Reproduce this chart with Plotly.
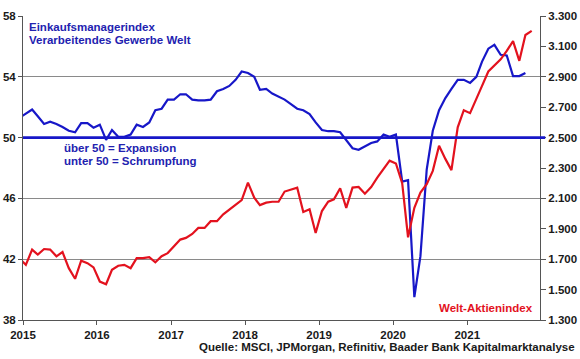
import pandas as pd
import plotly.graph_objects as go

# ---- data (monthly, Dec 2014 ... ) ----
pmi_values = [
    51.3,
    51.55, 51.85, 51.4, 50.9, 51.05, 50.9, 50.7, 50.45, 50.35, 50.95, 50.95, 50.65,
    50.85, 49.85, 50.5, 50.05, 50.05, 50.2, 50.85, 50.7, 51.0, 51.8, 51.9, 52.5,
    52.5, 52.85, 52.85, 52.5, 52.45, 52.45, 52.5, 53.05, 53.2, 53.4, 53.8, 54.35,
    54.25, 54.0, 53.15, 53.2, 52.9, 52.7, 52.5, 52.2, 51.9, 51.8, 51.55, 51.0,
    50.5, 50.42, 50.42, 50.35, 49.8, 49.3, 49.2, 49.4, 49.65, 49.75, 50.2, 50.05,
    50.2, 47.1, 47.2, 39.5, 42.2, 47.9, 50.45, 51.8, 52.6, 53.2, 53.8, 53.8,
    53.6, 54.0, 55.0, 55.85, 56.1, 55.45, 55.4, 54.05, 54.05, 54.25,
]
msci_values = [
    1703,
    1663, 1763, 1730, 1767, 1763, 1719, 1747, 1641, 1571, 1690, 1674, 1646,
    1553, 1535, 1630, 1657, 1663, 1641, 1707, 1707, 1714, 1680, 1720, 1740,
    1783, 1829, 1840, 1866, 1906, 1906, 1950, 1950, 1995, 2028, 2061, 2089,
    2204, 2105, 2056, 2072, 2078, 2078, 2145, 2160, 2171, 2010, 2028, 1873,
    2017, 2078, 2094, 2167, 2038, 2171, 2175, 2131, 2175, 2237, 2290, 2348,
    2330, 2200, 1844, 2038, 2138, 2193, 2281, 2447, 2360, 2286, 2568, 2680,
    2661, 2750, 2840, 2935, 2975, 3015, 3070, 3135, 3005, 3175, 3202,
]
year_ticks = ["2015-01-01", "2016-01-01", "2017-01-01", "2018-01-01",
              "2019-01-01", "2020-01-01", "2021-01-01"]
year_labels = ["2015", "2016", "2017", "2018", "2019", "2020", "2021"]
left_ticks = [38, 42, 46, 50, 54, 58]
right_ticks = list(range(1300, 3301, 200))
threshold = 50

pmi_dates = [d + pd.DateOffset(days=14) for d in
             pd.date_range("2014-12-01", periods=len(pmi_values), freq="MS")]
msci_dates = [d + pd.DateOffset(days=14) for d in
              pd.date_range("2014-12-01", periods=len(msci_values), freq="MS")]

BLUE = "#1717c8"
TXT_BLUE = "#2222b0"
RED = "#e3121e"
FONT = "Liberation Sans, Arial, sans-serif"
tickfont = dict(family=FONT, size=11.5, color="#1a1a1a", weight="bold")

fig = go.Figure()
fig.add_trace(go.Scatter(x=pmi_dates, y=pmi_values, mode="lines",
                         line=dict(color=BLUE, width=2.2), yaxis="y",
                         showlegend=False, hoverinfo="skip"))
fig.add_trace(go.Scatter(x=msci_dates, y=msci_values, mode="lines",
                         line=dict(color=RED, width=2.2), yaxis="y2",
                         showlegend=False, hoverinfo="skip"))

fig.add_shape(type="line", xref="paper", yref="y", x0=0, x1=1.01,
              y0=threshold, y1=threshold, line=dict(color=BLUE, width=2.8),
              layer="above")

def ann(text, x, y, color, xanchor="left", size=11.5):
    fig.add_annotation(text=text, x=x, y=y, xref="paper", yref="paper",
                       xanchor=xanchor, yanchor="middle", showarrow=False,
                       font=dict(family=FONT, size=size, color=color, weight="bold"))

ann("Einkaufsmanagerindex", 0.008, 0.964, TXT_BLUE)
ann("Verarbeitendes Gewerbe Welt", 0.008, 0.921, TXT_BLUE)
ann("über 50 = Expansion", 0.076, 0.566, TXT_BLUE)
ann("unter 50 = Schrumpfung", 0.076, 0.523, TXT_BLUE)
ann("Welt-Aktienindex", 0.991, 0.040, RED, xanchor="right")
ann("Quelle: MSCI, JPMorgan, Refinitiv, Baader Bank Kapitalmarktanalyse",
    1.072, -0.089, "#1a1a1a", xanchor="right")

fig.update_layout(
    width=580, height=359,
    margin=dict(l=23, r=40, t=16, b=39, pad=0, autoexpand=False),
    paper_bgcolor="white", plot_bgcolor="white",
    separators=",.",
    xaxis=dict(type="date", range=["2015-01-01", "2021-12-26"],
               tickvals=year_ticks, ticktext=year_labels,
               ticks="outside", ticklen=4, tickcolor="#555",
               showline=True, linecolor="#555", linewidth=1,
               showgrid=False, zeroline=False, tickfont=tickfont,
               automargin=False),
    yaxis=dict(range=[38, 58], tickvals=left_ticks,
               ticks="outside", ticklen=4, tickcolor="#555",
               showline=True, linecolor="#555", linewidth=1,
               showgrid=True, gridcolor="#8a8a8a", gridwidth=1,
               zeroline=False, tickfont=tickfont, automargin=False),
    yaxis2=dict(range=[1300, 3300], tickvals=right_ticks, tickformat=",d",
                overlaying="y", side="right",
                ticks="outside", ticklen=5, tickcolor="#555",
                showline=True, linecolor="#555", linewidth=1,
                showgrid=False, zeroline=False, tickfont=tickfont,
                automargin=False),
)

fig.write_html("out.html", config={"displayModeBar": False},
               post_script="document.body.style.margin='0';document.body.style.padding='0';")
